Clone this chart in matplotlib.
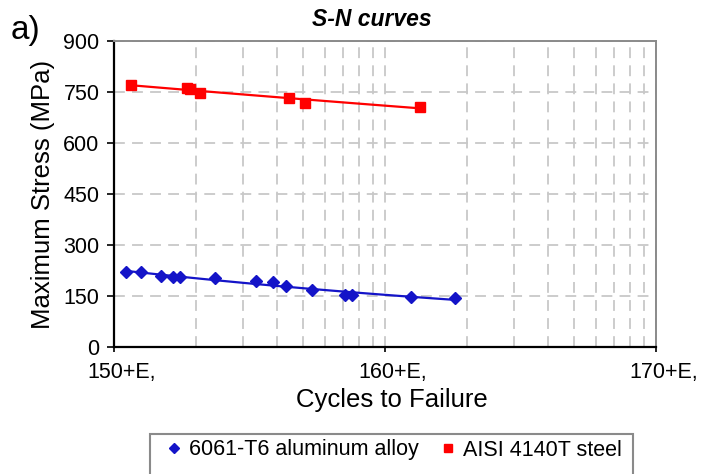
import numpy as np
import matplotlib
matplotlib.use("Agg")
import matplotlib.pyplot as plt                      # noqa: E402
import matplotlib.transforms as mtransforms          # noqa: E402
from matplotlib.lines import Line2D                  # noqa: E402
from matplotlib.patches import Rectangle             # noqa: E402
from matplotlib.ticker import FixedLocator, LogLocator, NullFormatter  # noqa: E402

plt.rcParams["font.family"] = ["Liberation Sans", "DejaVu Sans"]

# fatigue test results (cycles to failure, max stress in MPa)
al_cycles = [1.11e5, 1.255e5, 1.49e5, 1.65e5, 1.75e5, 2.36e5, 3.34e5, 3.85e5,
             4.30e5, 5.36e5, 7.11e5, 7.53e5, 1.245e6, 1.81e6]
al_stress = [220, 220, 210, 206, 206, 202, 194, 191, 180, 168, 153, 153, 148, 143]
steel_cycles = [1.155e5, 1.86e5, 1.90e5, 2.07e5, 4.44e5, 5.07e5, 1.345e6]
steel_stress = [771, 762, 758, 748, 733, 718, 707]

series_names = ["6061-T6 aluminum alloy", "AISI 4140T steel"]
xtick_vals = [1e5, 1e6, 1e7]
xtick_text = ["150+E,", "160+E,", "170+E,"]
ytick_vals = [0, 150, 300, 450, 600, 750, 900]

BLUE = "#1414c8"
RED = "#ff0000"
GRID = "#c8c8c8"


def power_fit(x, y):
    # Basquin-type power trendline fitted in log-log space
    x = np.asarray(x, float)
    b, a = np.polyfit(np.log10(x), np.log10(y), 1)
    xs = np.geomspace(x.min(), x.max(), 50)
    return xs, 10 ** a * xs ** b


fig = plt.figure(figsize=(7.02, 4.74), dpi=100)
W, H = 702, 474
ax = fig.add_axes([114 / W, 1 - 347 / H, (656 - 114) / W, (347 - 41) / H])

ax.set_xscale("log")
ax.set_xlim(1e5, 1e7)
ax.set_ylim(0, 900)

for xs_, ys_, col, mk, ms in [(al_cycles, al_stress, BLUE, "D", 6.3),
                              (steel_cycles, steel_stress, RED, "s", 7.5)]:
    fx, fy = power_fit(xs_, ys_)
    ax.plot(fx, fy, color=col, lw=1.6, zorder=3)
    ax.plot(xs_, ys_, ls="none", marker=mk, ms=ms, color=col, mec=col, zorder=4)

# axes furniture
ax.xaxis.set_major_locator(FixedLocator(xtick_vals))
ax.set_xticklabels(xtick_text)
ax.xaxis.set_minor_locator(LogLocator(base=10, subs=range(2, 10)))
ax.xaxis.set_minor_formatter(NullFormatter())
ax.set_yticks(ytick_vals)
ax.tick_params(axis="x", which="major", length=3.6, width=1.2, pad=7, labelsize=15.5)
ax.tick_params(axis="x", which="minor", length=0)
ax.tick_params(axis="y", length=5, width=1.2, pad=5.5, labelsize=15.5)
shift = mtransforms.ScaledTranslation(0.08, 0, fig.dpi_scale_trans)
for lab in ax.get_xticklabels():
    lab.set_transform(lab.get_transform() + shift)

dash = (0, (6, 4))
ax.grid(True, which="both", axis="x", color=GRID, ls=dash, lw=1.3, zorder=0)
ax.grid(True, which="major", axis="y", color=GRID, ls=dash, lw=1.3, zorder=0)
ax.set_axisbelow(True)

for side in ("left", "bottom"):
    ax.spines[side].set_color("#000000")
    ax.spines[side].set_linewidth(1.6)
for side in ("top", "right"):
    ax.spines[side].set_color("#8a8a8a")
    ax.spines[side].set_linewidth(1.4)

ax.set_xlabel("Cycles to Failure", fontsize=18.5, labelpad=3.5)
ax.xaxis.label.set_x(0.513)
ax.set_ylabel("Maximum Stress (MPa)", fontsize=18.5, labelpad=6)

fig.text(372 / W, 1 - 20 / H, "S-N curves", ha="center", va="center",
         fontsize=16.5, fontweight="bold", fontstyle="italic")
fig.text(11 / W, 1 - 31 / H, "a)", ha="left", va="center", fontsize=24)

# legend box runs off the bottom edge of the figure
fig.patches.append(Rectangle((150 / W, -0.05), 483 / W, (474 - 434) / H + 0.05,
                             transform=fig.transFigure, facecolor="white",
                             edgecolor="#8a8a8a", lw=1.5, zorder=1))
handles = [Line2D([], [], ls="none", marker="D", ms=5, color=BLUE),
           Line2D([], [], ls="none", marker="s", ms=5.5, color=RED)]
fig.legend(handles, series_names, loc="center", ncol=2, frameon=False,
           bbox_to_anchor=(395 / W, 1 - 450 / H), fontsize=15.5,
           handlelength=0.6, handletextpad=0.4, columnspacing=1.07)

fig.savefig("out.png", dpi=100)
